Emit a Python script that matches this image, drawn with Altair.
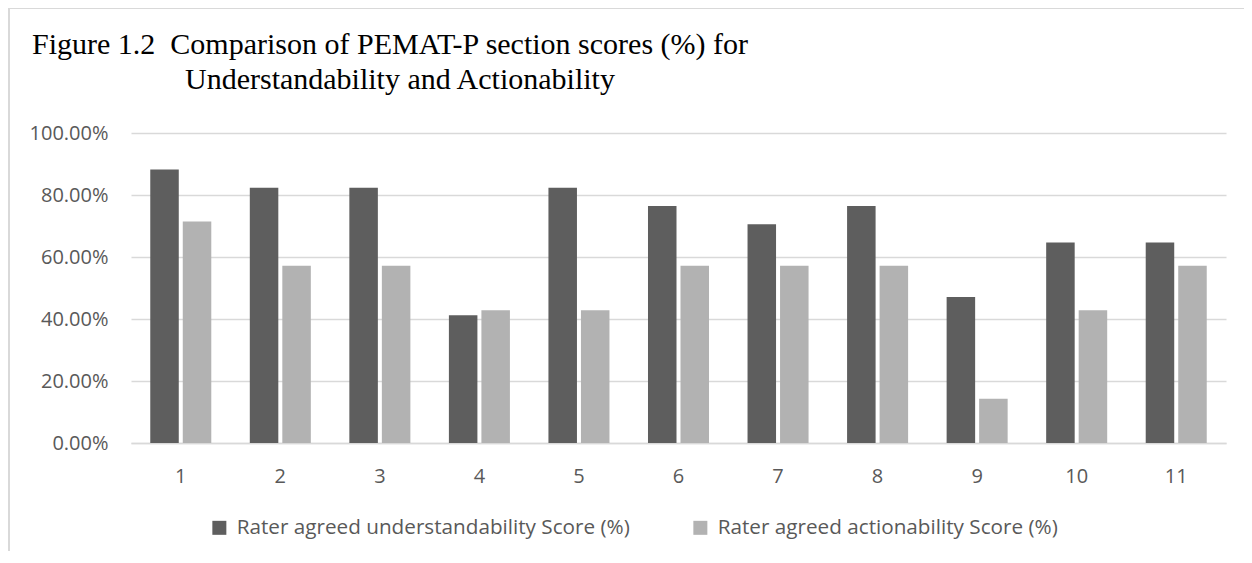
import altair as alt
import pandas as pd

units = [str(i) for i in range(1, 12)]
understand = [88.24, 82.35, 82.35, 41.18, 82.35, 76.47, 70.59, 76.47, 47.06, 64.71, 64.71]
action = [71.43, 57.14, 57.14, 42.86, 42.86, 57.14, 57.14, 57.14, 14.29, 42.86, 57.14]
series_names = ["Rater agreed understandability Score (%)", "Rater agreed actionability Score (%)"]
colors = ["#5e5e5e", "#b2b2b2"]
y_ticks = [0, 0.2, 0.4, 0.6, 0.8, 1.0]
title_line1 = "Figure 1.2\u00a0\u00a0Comparison of PEMAT-P section scores (%) for"
title_line2 = "Understandability and Actionability"

rows = []
for u, a, b in zip(units, understand, action):
    rows.append({"unit": u, "series": series_names[0], "score": a / 100})
    rows.append({"unit": u, "series": series_names[1], "score": b / 100})
df = pd.DataFrame(rows)

TXT = "#595959"
GRID = "#d9d9d9"

bars = alt.Chart(df).mark_bar().encode(
    x=alt.X(
        "unit:N",
        sort=units,
        scale=alt.Scale(paddingInner=0.387, paddingOuter=0.1935),
        axis=alt.Axis(
            title=None, labelAngle=0, labelFont="Open Sans", labelFontSize=20,
            labelColor=TXT, ticks=False, tickSize=0, labelPadding=23,
            domainColor=GRID, domainWidth=1.5,
        ),
    ),
    xOffset=alt.XOffset("series:N", sort=series_names,
                        scale=alt.Scale(paddingInner=0.123, paddingOuter=0)),
    y=alt.Y(
        "score:Q",
        scale=alt.Scale(domain=[0, 1]),
        axis=alt.Axis(
            title=None, format=".2%", values=y_ticks, labelFont="Open Sans",
            labelFontSize=20, labelColor=TXT, ticks=False, tickSize=0,
            labelPadding=23, domain=False, gridColor=GRID, gridWidth=1.5,
        ),
    ),
    color=alt.Color(
        "series:N",
        sort=series_names,
        scale=alt.Scale(domain=series_names, range=colors),
        legend=alt.Legend(
            title=None, orient="none", legendX=78, legendY=384,
            direction="horizontal", columns=2, symbolType="square",
            symbolSize=196, symbolStrokeWidth=0, labelFont="Open Sans",
            labelFontSize=20.7, labelColor=TXT, labelOffset=7,
            columnPadding=60, labelLimit=0,
        ),
    ),
)

frame = pd.DataFrame({"k": [0]})
title_1 = alt.Chart(frame).mark_text(
    text=title_line1, align="left", baseline="alphabetic",
    font="Liberation Serif", fontSize=30, color="black",
).encode(x=alt.value(-99), y=alt.value(-79))
title_2 = alt.Chart(frame).mark_text(
    text=title_line2, align="left", baseline="alphabetic",
    font="Liberation Serif", fontSize=30, color="black",
).encode(x=alt.value(54), y=alt.value(-44))

left_border = alt.Chart(frame).mark_rule(color=GRID, strokeWidth=2).encode(
    x=alt.value(-122), y=alt.value(-126), y2=alt.value(430)
)
top_border = alt.Chart(frame).mark_rule(color=GRID, strokeWidth=2).encode(
    y=alt.value(-125), x=alt.value(-123), x2=alt.value(1113)
)

chart = alt.layer(bars, left_border, top_border, title_1, title_2).properties(
    width=1095,
    height=310,
    padding={"left": 123, "top": 125, "right": 18, "bottom": 108},
    autosize=alt.AutoSizeParams(type="none"),
).configure_view(stroke=None)

chart.save("out.html", embed_options={"renderer": "svg", "actions": False})
